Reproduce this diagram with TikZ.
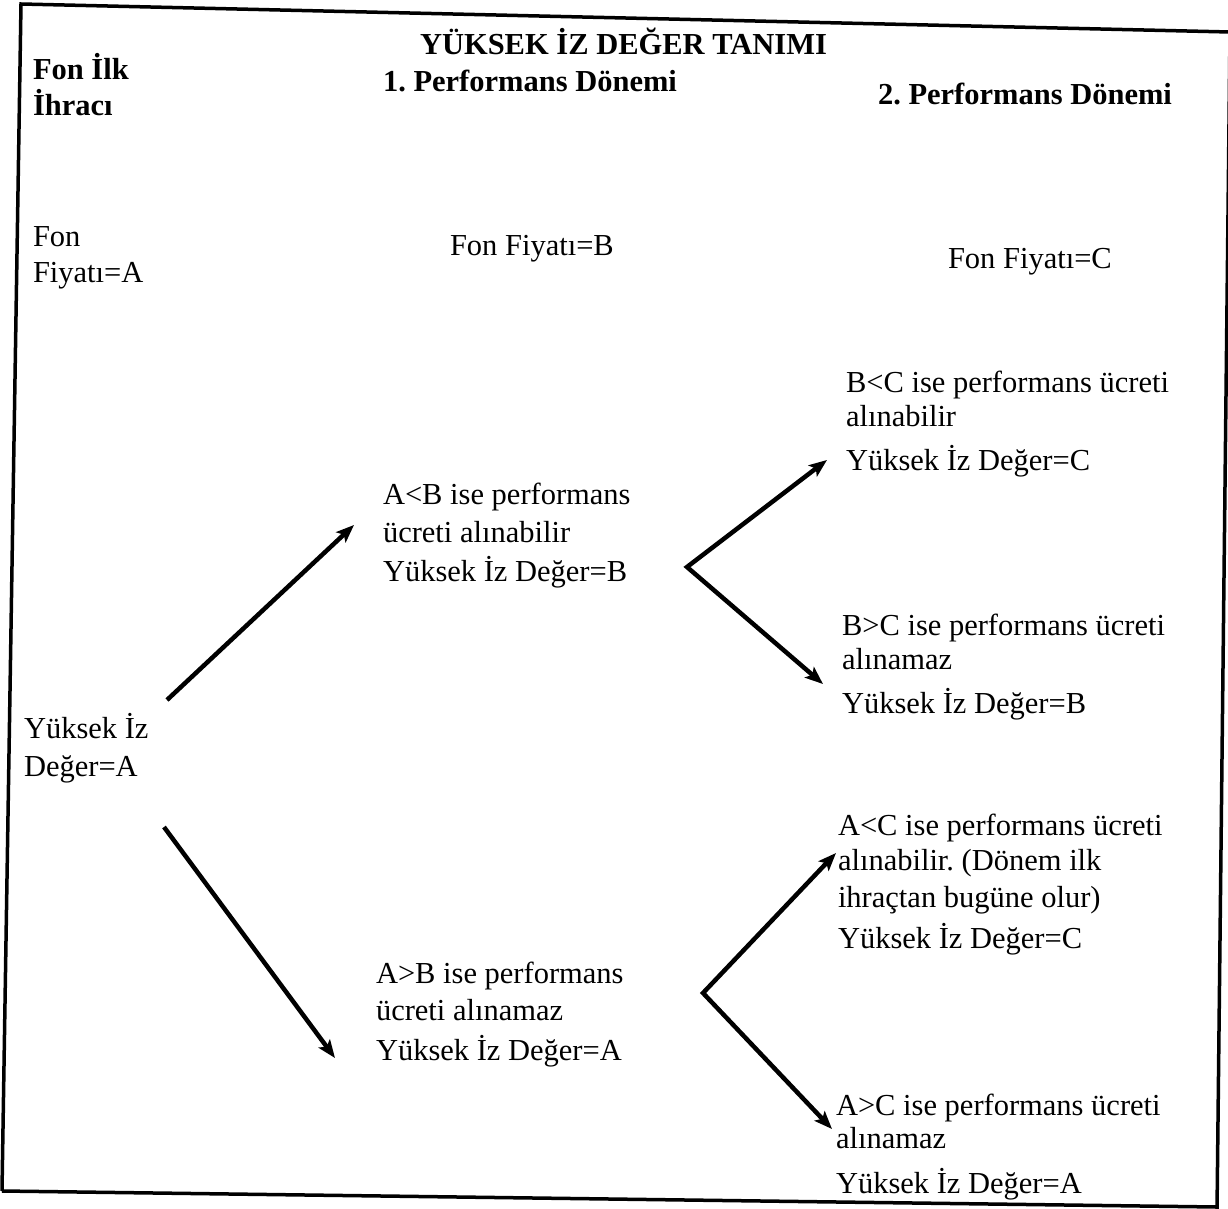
\documentclass[tikz,border=0pt]{standalone}
\usepackage{fontspec}
\setmainfont{Liberation Serif}
\usetikzlibrary{arrows.meta}
\newcommand\myfs{\fontsize{30.5}{36}\selectfont\frenchspacing}
\tikzset{
  txt/.style={anchor=base west, inner sep=0pt, outer sep=0pt, font=\myfs},
  btxt/.style={txt, font=\myfs\bfseries},
  arr/.style={line width=4.5pt, -{Stealth[length=18pt,width=14pt,inset=4pt]}},
  varr/.style={line width=4.5pt, line join=miter, {Stealth[length=18pt,width=14pt,inset=4pt]}-{Stealth[length=18pt,width=14pt,inset=4pt]}},
  frame/.style={line width=3.5pt}
}
\begin{document}
\begin{tikzpicture}[x=1pt,y=-1pt]
\useasboundingbox (0,0) rectangle (1228,1209);
\fill[white] (0,0) rectangle (1228,1209);
% frame
\coordinate (f1) at (21,4);
\coordinate (f2) at (1230,32);
\coordinate (f3) at (1217,1211);
\coordinate (f4) at (2,1191);
\coordinate (f5) at (1217,1207);
\draw[frame] (f4) -- (f1) -- (f2);
\draw[frame] (f2) -- (f3);
\draw[frame] (f4) -- (f5);
% headers
\node[btxt] (title) at (420,55) {YÜKSEK İZ DEĞER TANIMI};
\node[btxt] (p1) at (383,92) {1. Performans Dönemi};
\node[btxt] (p2) at (878,105) {2. Performans Dönemi};
\node[btxt] (ilk1) at (33,80) {Fon İlk};
\node[btxt] (ilk2) at (33,116) {İhracı};
% prices
\node[txt] (fa1) at (33,246) {Fon};
\node[txt] (fa2) at (33,282) {Fiyatı=A};
\node[txt] (fb) at (450,255) {Fon Fiyatı=B};
\node[txt] (fc) at (948,268) {Fon Fiyatı=C};
% left
\node[txt] (ya1) at (24,738) {Yüksek İz};
\node[txt] (ya2) at (24,776) {Değer=A};
% A<B
\node[txt] (ab1) at (383,504) {A<B ise performans};
\node[txt] (ab2) at (383,542) {ücreti alınabilir};
\node[txt] (ab3) at (383,581) {Yüksek İz Değer=B};
% A>B
\node[txt] (ba1) at (376,983) {A>B ise performans};
\node[txt] (ba2) at (376,1020) {ücreti alınamaz};
\node[txt] (ba3) at (376,1060) {Yüksek İz Değer=A};
% B<C
\node[txt] (bc1) at (846,392) {B<C ise performans ücreti};
\node[txt] (bc2) at (846,426) {alınabilir};
\node[txt] (bc3) at (846,470) {Yüksek İz Değer=C};
% B>C
\node[txt] (cb1) at (842,635) {B>C ise performans ücreti};
\node[txt] (cb2) at (842,669) {alınamaz};
\node[txt] (cb3) at (842,713) {Yüksek İz Değer=B};
% A<C
\node[txt] (ac1) at (838,835) {A<C ise performans ücreti};
\node[txt] (ac2) at (838,870) {alınabilir. (Dönem ilk};
\node[txt] (ac3) at (838,907) {ihraçtan bugüne olur)};
\node[txt] (ac4) at (838,948) {Yüksek İz Değer=C};
% A>C
\node[txt] (ca1) at (836,1115) {A>C ise performans ücreti};
\node[txt] (ca2) at (836,1148) {alınamaz};
\node[txt] (ca3) at (836,1193) {Yüksek İz Değer=A};
% arrows
\coordinate (s1) at (167,700);
\coordinate (e1) at (354,525);
\coordinate (s2) at (164,827);
\coordinate (e2) at (335,1058);
\coordinate (v1) at (687,567);
\coordinate (v1a) at (827,460);
\coordinate (v1b) at (823,684);
\coordinate (v2) at (703,993);
\coordinate (v2a) at (836,853);
\coordinate (v2b) at (832,1129);
\draw[arr] (s1) -- (e1);
\draw[arr] (s2) -- (e2);
\draw[varr] (v1a) -- (v1) -- (v1b);
\draw[varr] (v2a) -- (v2) -- (v2b);
\end{tikzpicture}
\end{document}
